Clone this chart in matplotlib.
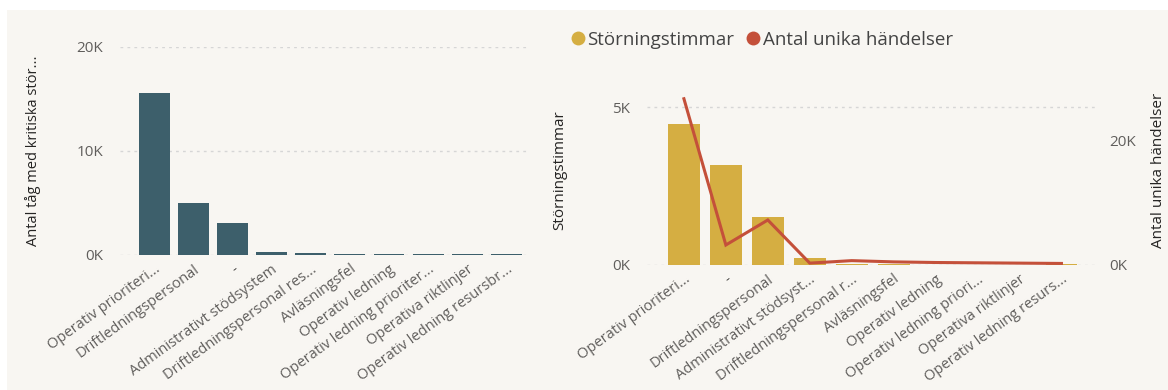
import matplotlib
matplotlib.use("Agg")
import matplotlib.pyplot as plt
from matplotlib.ticker import FuncFormatter
from matplotlib.lines import Line2D
from matplotlib.patches import Rectangle

plt.rcParams['font.family'] = ['Open Sans', 'DejaVu Sans']

# --- data -------------------------------------------------------------
trains_categories = [
    "Operativ prioriteri...", "Driftledningspersonal", "-",
    "Administrativt stödsystem", "Driftledningspersonal res...",
    "Avläsningsfel", "Operativ ledning", "Operativ ledning prioriter...",
    "Operativa riktlinjer", "Operativ ledning resursbr...",
]
trains_values = [15600, 4970, 3100, 330, 200, 110, 110, 100, 100, 100]

hours_categories = [
    "Operativ prioriteri...", "-", "Driftledningspersonal",
    "Administrativt stödsyst...", "Driftledningspersonal r...",
    "Avläsningsfel", "Operativ ledning", "Operativ ledning priori...",
    "Operativa riktlinjer", "Operativ ledning resurs...",
]
hours_values = [4460, 3160, 1520, 220, 30, 20, 15, 10, 10, 20]
events_values = [26600, 3200, 7200, 300, 700, 500, 400, 350, 300, 250]

# --- styling ----------------------------------------------------------
W, H, DPI = 1168, 390, 100
PANEL = "#f8f6f2"
TEAL = "#3d5f6b"
GOLD = "#d5ae42"
RED = "#c4503a"
TICK = "#605e5c"
TITLE = "#252423"
GRID = "#d6d6d6"
XLABEL_SIZE = 10.5
XLABEL_ROT = 36


def kfmt(v, _pos):
    return f"{v / 1000:.0f}K"


def px_axes(fig, x0, x1, ytop, ybot):
    return fig.add_axes([x0 / W, 1 - ybot / H, (x1 - x0) / W, (ybot - ytop) / H])


def style(ax):
    ax.set_facecolor("none")
    for s in ax.spines.values():
        s.set_visible(False)
    ax.tick_params(length=0, colors=TICK)
    ax.yaxis.set_major_formatter(FuncFormatter(kfmt))


fig = plt.figure(figsize=(W / DPI, H / DPI), dpi=DPI, facecolor="white")
fig.patches.append(Rectangle((7 / W, 0), 1, 1 - 10 / H, transform=fig.transFigure,
                             facecolor=PANEL, edgecolor="none", zorder=-10))

# --- left chart: trains with critical disturbances --------------------
ax1 = px_axes(fig, 120, 530, 47, 255)
style(ax1)
x1 = range(len(trains_categories))
ax1.bar(x1, trains_values, width=0.79, color=TEAL, zorder=3)
ax1.set_xlim(-0.87, 9.6)
ax1.set_ylim(0, 20000)
ax1.set_yticks([0, 10000, 20000])
ax1.yaxis.grid(True, color=GRID, linestyle=(0, (2, 3)), linewidth=1, zorder=0)
ax1.tick_params(axis="y", labelsize=11, pad=12)
ax1.set_xticks(list(x1))
ax1.set_xticklabels(trains_categories, rotation=XLABEL_ROT, ha="right",
                    rotation_mode="anchor", fontsize=XLABEL_SIZE, color=TICK)
ax1.tick_params(axis="x", pad=5)
fig.text(33 / W, 1 - 151 / H, "Antal tåg med kritiska stör...", rotation=90,
         ha="center", va="center", fontsize=10.5, color=TITLE)

# --- right chart: disturbance hours and unique events -----------------
ax2 = px_axes(fig, 647, 1095, 90, 265)
style(ax2)
x2 = range(len(hours_categories))
ax2.bar(x2, hours_values, width=0.76, color=GOLD, zorder=2)
ax2.set_xlim(-0.88, 9.8)
ax2.set_ylim(0, 5540)
ax2.set_yticks([0, 5000])
ax2.yaxis.grid(True, color=GRID, linestyle=(0, (2, 3)), linewidth=1, zorder=0)
ax2.tick_params(axis="y", labelsize=11, pad=12)
ax2.set_xticks(list(x2))
ax2.set_xticklabels(hours_categories, rotation=XLABEL_ROT, ha="right",
                    rotation_mode="anchor", fontsize=XLABEL_SIZE, color=TICK)
ax2.tick_params(axis="x", pad=5)

ax3 = ax2.twinx()
style(ax3)
ax3.plot(list(x2), events_values, color=RED, linewidth=2.2, zorder=4,
         solid_joinstyle="miter")
ax3.set_ylim(0, 28000)
ax3.set_yticks([0, 20000])
ax3.tick_params(axis="y", labelsize=11, pad=10)

fig.text(560 / W, 1 - 170 / H, "Störningstimmar", rotation=90,
         ha="center", va="center", fontsize=11, color=TITLE)
fig.text(1158 / W, 1 - 170 / H, "Antal unika händelser", rotation=90,
         ha="center", va="center", fontsize=11, color=TITLE)

handles = [
    Line2D([], [], marker="o", linestyle="none", markersize=10,
           markerfacecolor=GOLD, markeredgecolor="none", label="Störningstimmar"),
    Line2D([], [], marker="o", linestyle="none", markersize=10,
           markerfacecolor=RED, markeredgecolor="none", label="Antal unika händelser"),
]
fig.legend(handles=handles, loc="center left", bbox_to_anchor=(550 / W, 1 - 40 / H),
           ncol=2, frameon=False, fontsize=13.5, handletextpad=-0.1,
           columnspacing=0.4, handlelength=1.2, labelcolor="#444444")

fig.savefig("out.png", dpi=DPI, facecolor=fig.get_facecolor())
